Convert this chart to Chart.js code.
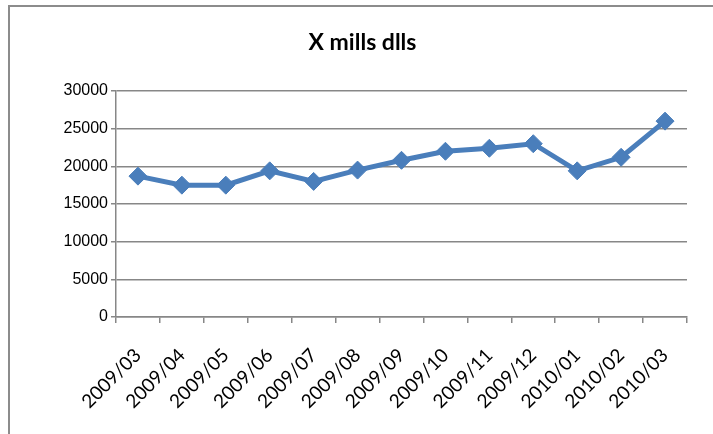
<!DOCTYPE html>
<html>
<head>
<meta charset="utf-8">
<script src="https://cdn.jsdelivr.net/npm/chart.js@4/dist/chart.umd.min.js"></script>
<style>
  html, body { margin: 0; padding: 0; background: #fff; }
  #wrap { position: relative; width: 713px; height: 434px; overflow: hidden; }
  #frame { position: absolute; left: 8px; top: 5px; width: 800px; height: 500px;
           border-left: 2px solid #8c8c8c; border-top: 2px solid #8c8c8c; }
  canvas { position: absolute; left: 0; top: 0; }
</style>
</head>
<body>
<div id="wrap">
  <div id="frame"></div>
  <canvas id="chart" width="713" height="434"></canvas>
</div>
<script>
// Monthly totals, millions of dollars
const months = ['2009/03', '2009/04', '2009/05', '2009/06', '2009/07', '2009/08', '2009/09',
                '2009/10', '2009/11', '2009/12', '2010/01', '2010/02', '2010/03'];
const amounts = [18700, 17500, 17500, 19400, 18000, 19500, 20800, 22000, 22400, 23000, 19400, 21200, 26000];
const yTicks = [0, 5000, 10000, 15000, 20000, 25000, 30000];
const chartTitle = 'X mills dlls';

const gridGrey = '#878787';
const seriesBlue = '#4a7ebb';

new Chart(document.getElementById('chart'), {
  type: 'line',
  data: {
    labels: months,
    datasets: [{
      label: chartTitle,
      data: amounts,
      borderColor: seriesBlue,
      backgroundColor: seriesBlue,
      borderWidth: 5,
      tension: 0,
      pointStyle: 'rectRot',
      pointRadius: 9,
      pointHoverRadius: 9,
      pointBackgroundColor: seriesBlue,
      pointBorderColor: seriesBlue,
      pointBorderWidth: 1
    }]
  },
  options: {
    responsive: false,
    animation: false,
    events: [],
    layout: { padding: { left: 38, right: 26, top: 0, bottom: 0 } },
    plugins: {
      legend: { display: false },
      tooltip: { enabled: false },
      title: {
        display: true,
        text: chartTitle,
        color: '#000',
        font: { family: 'Lato', size: 23, weight: 'bold', lineHeight: 1.2 },
        padding: { top: 29, bottom: 34.4 }
      }
    },
    scales: {
      x: {
        offset: true,
        afterFit: s => { s.height = 117; },
        grid: { offset: true, drawOnChartArea: false, drawTicks: true, tickLength: 6,
                color: gridGrey, lineWidth: 1.5 },
        border: { display: true, color: gridGrey, width: 1.5 },
        ticks: {
          minRotation: 45, maxRotation: 45, autoSkip: false,
          color: '#000', padding: 21,
          font: { family: 'Lato', size: 19 }
        }
      },
      y: {
        min: 0, max: 30000,
        afterFit: s => { s.width = 116 - 38; },
        afterBuildTicks: s => { s.ticks = yTicks.map(v => ({ value: v })); },
        grid: { color: gridGrey, lineWidth: 1.5, tickLength: 5 },
        border: { display: true, color: gridGrey, width: 1.5 },
        ticks: {
          color: '#000', padding: 3,
          font: { family: 'Liberation Sans', size: 16 },
          callback: v => String(v)
        }
      }
    }
  }
});
</script>
</body>
</html>
